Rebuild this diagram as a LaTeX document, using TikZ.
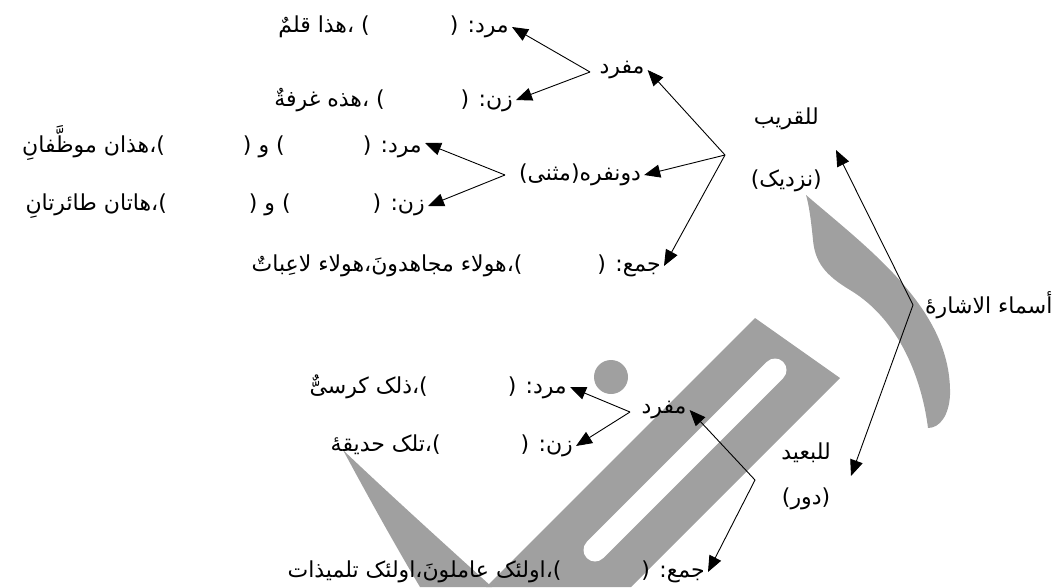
\documentclass[tikz,border=0pt]{standalone}
\usepackage{fontspec}
\usetikzlibrary{arrows.meta,positioning}
\TeXXeTstate=1
\newfontfamily\arabicfont[Script=Arabic]{DejaVu Sans}
\newcommand{\artext}[1]{{\arabicfont\beginR #1\endR}}
\definecolor{wmgray}{HTML}{A0A0A0}

\begin{document}
\begin{tikzpicture}[x=1pt, y=-1pt,
    arr/.style={-{Triangle[length=16pt,width=13pt]}, line width=0.9pt},
    lbl/.style={inner sep=3pt, font=\fontsize{22}{26}\selectfont},
    wm/.style={fill=wmgray}]
    \useasboundingbox (0,0) rectangle (1053,587);
    % watermark
    \fill[wm] (755,318) -- (840,378) -- (631,587) -- (486,587) -- cycle;
    \draw[white, line width=23pt, line cap=round] (775,370) -- (595,550);
    \fill[wm] (343,450) .. controls (370,500) and (395,545) .. (420,587)
        -- (492,587) .. controls (440,540) and (385,490) .. cycle;
    \fill[wm] (611,377) circle (17);
    \fill[wm] (806,195) .. controls (870,250) and (952,310) .. (950,395)
        .. controls (949,415) and (940,428) .. (928,428)
        .. controls (922,380) and (900,320) .. (850,290)
        .. controls (825,275) and (815,262) .. (813,240)
        .. controls (811,220) and (809,205) .. cycle;
    % near
    \node[lbl, anchor=east] (mrd1) at (512,27) {\artext{مرد: (\hspace{80pt}) ،هذا قلمٌ}};
    \node[lbl, anchor=east] (zan1) at (516,100) {\artext{زن: (\hspace{76pt}) ،هذه غرفةٌ}};
    \node[lbl] (mfrd1) at (622,70) {\artext{مفرد}};
    \node[lbl, anchor=east] (mrd2) at (425,143) {\artext{مرد: (\hspace{78pt}) و (\hspace{78pt})\kern0pt،هذان موظَّفانِ}};
    \node[lbl, anchor=east] (zan2) at (428,206) {\artext{زن: (\hspace{82pt}) و (\hspace{82pt})\kern0pt،هاتان طائرتانِ}};
    \node[lbl] (mthn) at (580,175) {\artext{دونفره(مثنی)}};
    \node[lbl, anchor=east] (jam1) at (664,266) {\artext{جمع: (\hspace{75pt})\kern0pt،هولاء مجاهدونَ،هولاء لاعِباتٌ}};
    \node[lbl, align=center, anchor=east, inner xsep=14pt] (qarib) at (836,150) {\artext{للقریب}\\[36pt]\artext{(نزدیک)}};
    % far
    \node[lbl, anchor=west] (asma) at (922,305) {\artext{أسماء الاشارهٔ}};
    \node[lbl, align=center, anchor=east, inner xsep=20pt] (baeed) at (851,476) {\artext{للبعید}\\[19pt]\artext{(دور)}};
    \node[lbl] (mfrd2) at (664,410) {\artext{مفرد}};
    \node[lbl, anchor=east] (mrd3) at (570,387) {\artext{مرد: (\hspace{80pt})\kern0pt،ذلک کرسیٌّ}};
    \node[lbl, anchor=east] (zan3) at (576,446) {\artext{زن: (\hspace{80pt})\kern0pt،تلک حدیقهٔ}};
    \node[lbl, anchor=east] (jam2) at (708,572) {\artext{جمع: (\hspace{80pt})\kern0pt،اولئک عاملونَ،اولئک تلمیذات}};
    % branch points
    \coordinate (v1) at (590,72);
    \coordinate (v2) at (505,175);
    \coordinate (vq) at (725,155);
    \coordinate (vm) at (913,305);
    \coordinate (vb) at (755,480);
    \coordinate (v3) at (630,412);
    \foreach \from/\to in {v1/mrd1, v1/zan1, v2/mrd2, v2/zan2, vq/mfrd1, vq/mthn,
        vq/jam1, vm/qarib, vm/baeed, vb/mfrd2, vb/jam2, v3/mrd3, v3/zan3}
        \draw[arr] (\from) -- (\to.east);
\end{tikzpicture}
\end{document}
